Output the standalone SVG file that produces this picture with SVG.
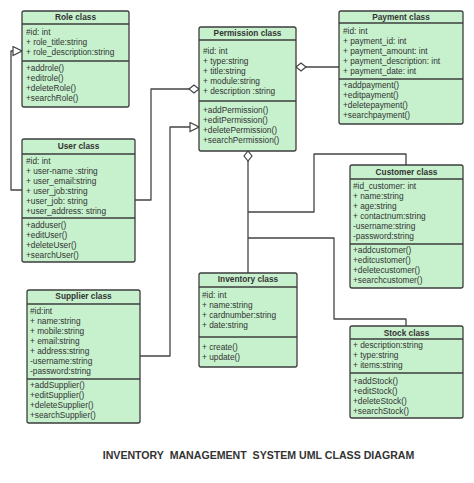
<svg xmlns="http://www.w3.org/2000/svg" width="474" height="483" viewBox="0 0 474 483">
<style>
.box{fill:#c6f1cc;stroke:#3d3d3d;stroke-width:1.3}
.sep{stroke:#3d3d3d;stroke-width:1.3}
.t{font-family:"Liberation Sans",Arial,sans-serif;font-size:8.3px;fill:#333}
.h{font-family:"Liberation Sans",Arial,sans-serif;font-size:8.3px;font-weight:bold;fill:#333;text-anchor:middle}
.c{fill:none;stroke:#444;stroke-width:1.3;stroke-linejoin:round}
.title{font-family:"Liberation Sans",Arial,sans-serif;font-size:10.6px;font-weight:bold;fill:#333;text-anchor:middle}
</style>
<defs>
<marker id="tri" markerUnits="userSpaceOnUse" markerWidth="11" markerHeight="11" viewBox="-1 -1 11 11" refX="9" refY="4.5" orient="auto">
<path d="M0,0 L9,4.5 L0,9 z" fill="#fff" stroke="#444" stroke-width="1.2"/>
</marker>
<marker id="dia" markerUnits="userSpaceOnUse" markerWidth="12" markerHeight="10" viewBox="-1 -1 12 10" refX="10" refY="4" orient="auto">
<path d="M0,4 L5,0 L10,4 L5,8 z" fill="#fff" stroke="#444" stroke-width="1.2"/>
</marker>
</defs>
<g id="connectors">
<path class="c" d="M22,190 H11 V51 H22" marker-end="url(#tri)"/>
<path class="c" d="M135,200 H151 V89 H199" marker-end="url(#dia)"/>
<path class="c" d="M140,356 H170 V127 H199" marker-end="url(#tri)"/>
<path class="c" d="M339,67 H296" marker-end="url(#dia)"/>
<path class="c" d="M248,273 V151" marker-end="url(#dia)"/>
<path class="c" d="M248,212 H314 V154 H406 V165"/>
<path class="c" d="M248,238 H334 V319 H406 V326"/>
</g>
<g id="role">
<rect class="box" x="22" y="11" width="107" height="96" rx="2"/>
<line class="sep" x1="22" y1="24" x2="129" y2="24"/>
<line class="sep" x1="22" y1="61" x2="129" y2="61"/>
<text class="h" x="75.5" y="20">Role class</text>
<text class="t" x="26" y="35">#id: int</text>
<text class="t" x="26" y="45">+ role_title:string</text>
<text class="t" x="26" y="55">+ role_description:string</text>
<text class="t" x="26" y="71">+addrole()</text>
<text class="t" x="26" y="81">+editrole()</text>
<text class="t" x="26" y="91">+deleteRole()</text>
<text class="t" x="26" y="101">+searchRole()</text>
</g>
<g id="permission">
<rect class="box" x="199" y="27" width="97" height="124" rx="2"/>
<line class="sep" x1="199" y1="40" x2="296" y2="40"/>
<line class="sep" x1="199" y1="101" x2="296" y2="101"/>
<text class="h" x="247.5" y="36">Permission class</text>
<text class="t" x="203" y="54">#id: int</text>
<text class="t" x="203" y="64">+ type:string</text>
<text class="t" x="203" y="74">+ title:string</text>
<text class="t" x="203" y="84">+ module:string</text>
<text class="t" x="203" y="94">+ description :string</text>
<text class="t" x="203" y="113">+addPermission()</text>
<text class="t" x="203" y="123">+editPermission()</text>
<text class="t" x="203" y="133">+deletePermission()</text>
<text class="t" x="203" y="143">+searchPermission()</text>
</g>
<g id="payment">
<rect class="box" x="339" y="11" width="124" height="113" rx="2"/>
<line class="sep" x1="339" y1="23" x2="463" y2="23"/>
<line class="sep" x1="339" y1="79" x2="463" y2="79"/>
<text class="h" x="401" y="20">Payment class</text>
<text class="t" x="343" y="34">#id: int</text>
<text class="t" x="343" y="44">+ payment_id: int</text>
<text class="t" x="343" y="54">+ payment_amount: int</text>
<text class="t" x="343" y="64">+ payment_description: int</text>
<text class="t" x="343" y="74">+ payment_date: int</text>
<text class="t" x="343" y="88">+addpayment()</text>
<text class="t" x="343" y="98">+editpayment()</text>
<text class="t" x="343" y="108">+deletepayment()</text>
<text class="t" x="343" y="118">+searchpayment()</text>
</g>
<g id="user">
<rect class="box" x="22" y="139" width="113" height="123" rx="2"/>
<line class="sep" x1="22" y1="154" x2="135" y2="154"/>
<line class="sep" x1="22" y1="218" x2="135" y2="218"/>
<text class="h" x="78.5" y="149">User class</text>
<text class="t" x="26" y="164">#id: int</text>
<text class="t" x="26" y="174">+ user-name :string</text>
<text class="t" x="26" y="184">+ user_email:string</text>
<text class="t" x="26" y="194">+ user_job:string</text>
<text class="t" x="26" y="204">+user_job: string</text>
<text class="t" x="26" y="214">+user_address: string</text>
<text class="t" x="26" y="228">+adduser()</text>
<text class="t" x="26" y="238">+editUser()</text>
<text class="t" x="26" y="248">+deleteUser()</text>
<text class="t" x="26" y="258">+searchUser()</text>
</g>
<g id="customer">
<rect class="box" x="350" y="165" width="113" height="123" rx="2"/>
<line class="sep" x1="350" y1="179" x2="463" y2="179"/>
<line class="sep" x1="350" y1="244" x2="463" y2="244"/>
<text class="h" x="406.5" y="175">Customer class</text>
<text class="t" x="353" y="189">#id_customer: int</text>
<text class="t" x="353" y="199">+ name:string</text>
<text class="t" x="353" y="209">+ age:string</text>
<text class="t" x="353" y="219">+ contactnum:string</text>
<text class="t" x="353" y="229">-username:string</text>
<text class="t" x="353" y="239">-password:string</text>
<text class="t" x="353" y="253">+addcustomer()</text>
<text class="t" x="353" y="263">+editcustomer()</text>
<text class="t" x="353" y="273">+deletecustomer()</text>
<text class="t" x="353" y="283">+searchcustomer()</text>
</g>
<g id="supplier">
<rect class="box" x="27" y="290" width="113" height="133" rx="2"/>
<line class="sep" x1="27" y1="304" x2="140" y2="304"/>
<line class="sep" x1="27" y1="379" x2="140" y2="379"/>
<text class="h" x="83.5" y="299">Supplier class</text>
<text class="t" x="30" y="314">#id:int</text>
<text class="t" x="30" y="324">+ name:string</text>
<text class="t" x="30" y="334">+ mobile:string</text>
<text class="t" x="30" y="344">+ email:string</text>
<text class="t" x="30" y="354">+ address:string</text>
<text class="t" x="30" y="364">-username:string</text>
<text class="t" x="30" y="374">-password:string</text>
<text class="t" x="30" y="388">+addSupplier()</text>
<text class="t" x="30" y="398">+editSupplier()</text>
<text class="t" x="30" y="408">+deleteSupplier()</text>
<text class="t" x="30" y="418">+searchSupplier()</text>
</g>
<g id="inventory">
<rect class="box" x="199" y="273" width="98" height="94" rx="2"/>
<line class="sep" x1="199" y1="287" x2="297" y2="287"/>
<line class="sep" x1="199" y1="337" x2="297" y2="337"/>
<text class="h" x="248" y="282">Inventory class</text>
<text class="t" x="202" y="298">#id: int</text>
<text class="t" x="202" y="308">+ name:string</text>
<text class="t" x="202" y="318">+ cardnumber:string</text>
<text class="t" x="202" y="328">+ date:string</text>
<text class="t" x="202" y="350">+ create()</text>
<text class="t" x="202" y="360">+ update()</text>
</g>
<g id="stock">
<rect class="box" x="350" y="326" width="113" height="92" rx="2"/>
<line class="sep" x1="350" y1="339" x2="463" y2="339"/>
<line class="sep" x1="350" y1="373" x2="463" y2="373"/>
<text class="h" x="406.5" y="336">Stock class</text>
<text class="t" x="353" y="348">+ description:string</text>
<text class="t" x="353" y="358">+ type:string</text>
<text class="t" x="353" y="368">+ items:string</text>
<text class="t" x="353" y="384">+addStock()</text>
<text class="t" x="353" y="394">+editStock()</text>
<text class="t" x="353" y="404">+deleteStock()</text>
<text class="t" x="353" y="414">+searchStock()</text>
</g>
<text class="title" x="258.5" y="459" xml:space="preserve">INVENTORY  MANAGEMENT  SYSTEM UML CLASS DIAGRAM</text>
</svg>
